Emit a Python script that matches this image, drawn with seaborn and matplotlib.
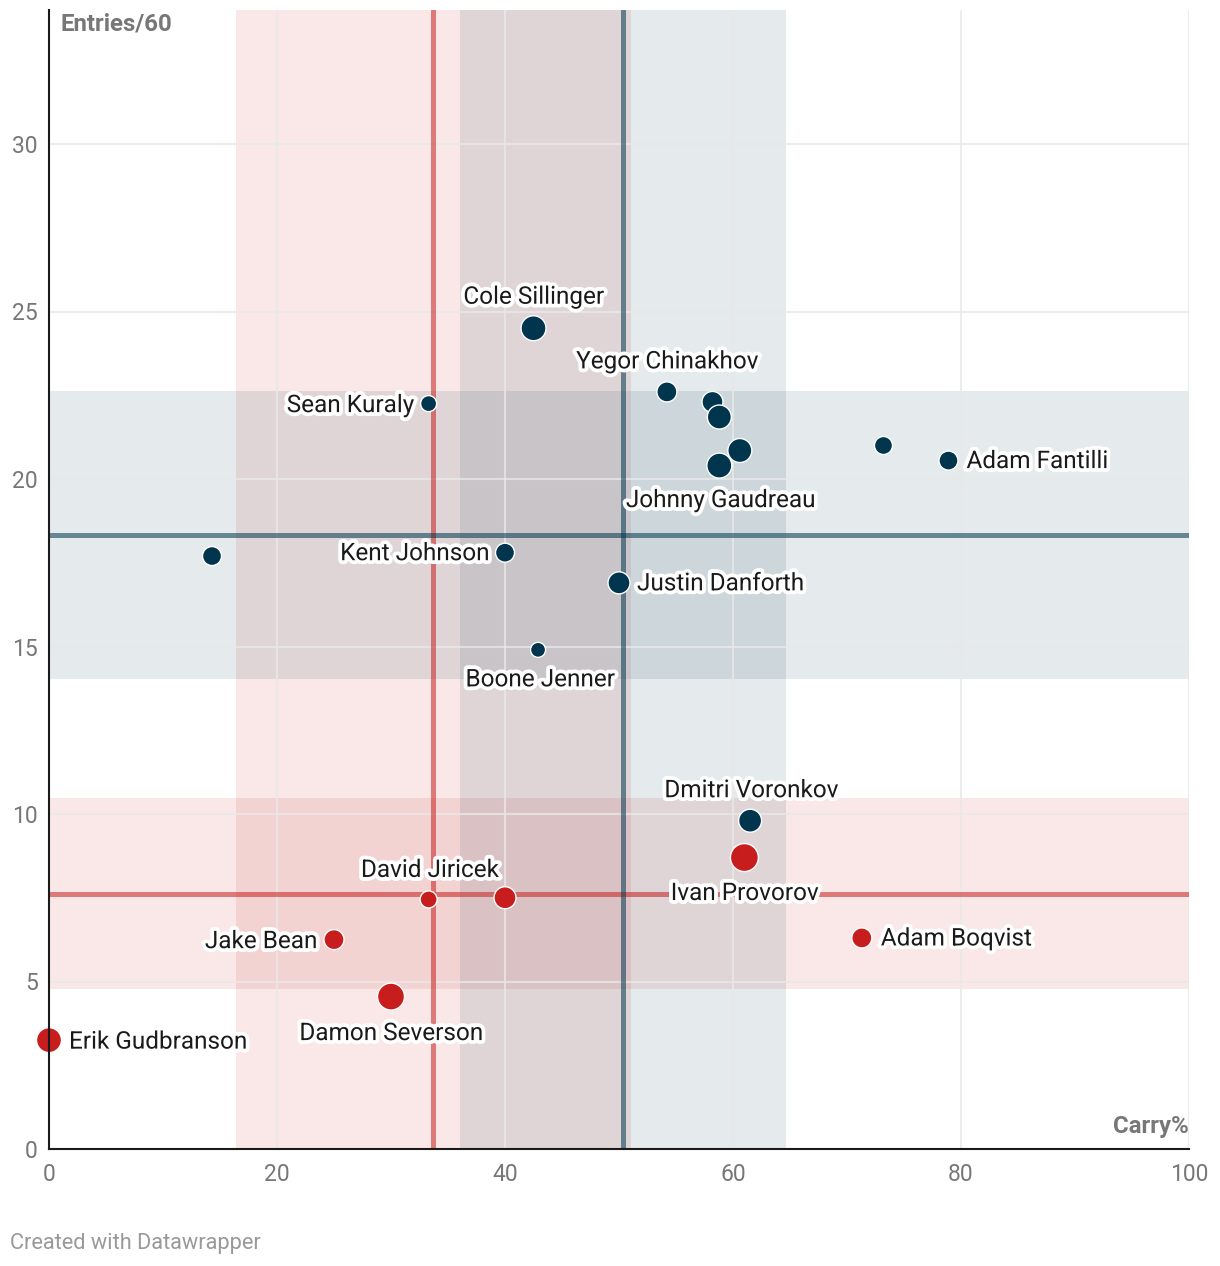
import numpy as np
import pandas as pd
import matplotlib
matplotlib.use("Agg")
import matplotlib.pyplot as plt
import matplotlib.patheffects as path_effects
import seaborn as sns

# ------------------------------------------------------------
# Carry% vs Entries/60 (forwards navy, defence red)
# ------------------------------------------------------------

PLAYERS = [
    "Cole Sillinger", "Yegor Chinakhov", "", "", "", "Johnny Gaudreau",
    "Sean Kuraly", "", "Kent Johnson", "Justin Danforth", "Boone Jenner",
    "Adam Fantilli", "", "Dmitri Voronkov",
    "Ivan Provorov", "David Jiricek", "", "Jake Bean", "Adam Boqvist",
    "Damon Severson", "Erik Gudbranson",
]
CARRY = [
    42.5, 54.2, 58.2, 58.8, 60.6, 58.8,
    33.3, 14.3, 40.0, 50.0, 42.9,
    78.9, 73.2, 61.5,
    61.0, 33.3, 40.0, 25.0, 71.3,
    30.0, 0.0,
]
ENTRIES = [
    24.5, 22.6, 22.3, 21.85, 20.85, 20.4,
    22.25, 17.7, 17.8, 16.9, 14.9,
    20.55, 21.0, 9.8,
    8.7, 7.45, 7.5, 6.25, 6.3,
    4.55, 3.25,
]
TOI = [
    312, 200, 220, 288, 288, 312,
    128, 180, 180, 242, 112,
    180, 162, 264,
    392, 144, 242, 200, 200,
    364, 312,
]
POSITION = ["F"] * 14 + ["D"] * 7

# group averages and spread bands
AVG_CARRY = {"F": 50.35, "D": 33.7}
AVG_ENTRIES = {"F": 18.33, "D": 7.62}
BAND_CARRY = {"F": (36.05, 64.65), "D": (16.4, 51.05)}
BAND_ENTRIES = {"F": (14.02, 22.64), "D": (4.77, 10.47)}

X_TICKS = [0, 20, 40, 60, 80, 100]
Y_TICKS = [0, 5, 10, 15, 20, 25, 30]

COLORS = {"F": "#00354d", "D": "#c71e1d"}

# label offsets in pixels (dx, dy, ha, va)
LABEL_CONFIG = {
    "Cole Sillinger": (0, 31, "center", "center"),
    "Yegor Chinakhov": (0, 30, "center", "center"),
    "Johnny Gaudreau": (1, -35, "center", "center"),
    "Sean Kuraly": (-15, -2, "right", "center"),
    "Kent Johnson": (-16, -1, "right", "center"),
    "Justin Danforth": (18, -1, "left", "center"),
    "Boone Jenner": (2, -30, "center", "center"),
    "Adam Fantilli": (18, -1, "left", "center"),
    "Dmitri Voronkov": (1, 30, "center", "center"),
    "Ivan Provorov": (0, -36, "center", "center"),
    "David Jiricek": (1, 29, "center", "center"),
    "Jake Bean": (-17, -2, "right", "center"),
    "Adam Boqvist": (19, -1, "left", "center"),
    "Damon Severson": (0, -37, "center", "center"),
    "Erik Gudbranson": (20, -2, "left", "center"),
}


def main():
    df = pd.DataFrame({
        "Player": PLAYERS,
        "Carry": CARRY,
        "Entries": ENTRIES,
        "TOI": TOI,
        "Pos": POSITION,
    })

    sns.set_theme(style="white")
    plt.rcParams["font.family"] = ["Roboto", "DejaVu Sans"]

    fig = plt.figure(figsize=(12.2, 12.66), dpi=100)
    ax = fig.add_axes([49 / 1220, 1 - 1149 / 1266, 1140 / 1220, 1139 / 1266])

    ax.set_xlim(0, 100)
    ax.set_ylim(0, 34)

    # spread bands
    for pos in ["D", "F"]:
        c = COLORS[pos]
        ax.axvspan(*BAND_CARRY[pos], color=c, alpha=0.1, lw=0, zorder=1)
        ax.axhspan(*BAND_ENTRIES[pos], color=c, alpha=0.1, lw=0, zorder=1)

    # grid (drawn over the bands)
    for x in X_TICKS[1:]:
        ax.axvline(x, color="#e8e8e8", alpha=0.8, lw=1.5, zorder=1.5)
    for y in Y_TICKS[1:]:
        ax.axhline(y, color="#e8e8e8", alpha=0.8, lw=1.5, zorder=1.5)

    # average lines
    for pos in ["D", "F"]:
        c = COLORS[pos]
        ax.axvline(AVG_CARRY[pos], color=c, alpha=0.55, lw=3.6, zorder=2)
        ax.axhline(AVG_ENTRIES[pos], color=c, alpha=0.55, lw=3.6, zorder=2)

    sns.scatterplot(
        data=df,
        x="Carry",
        y="Entries",
        hue="Pos",
        palette=COLORS,
        size="TOI",
        sizes=(117, 406),
        size_norm=(112, 392),
        edgecolor="white",
        linewidth=1,
        alpha=1,
        legend=False,
        clip_on=False,
        zorder=4,
        ax=ax,
    )

    px = 72 / 100
    for _, row in df.iterrows():
        name = row["Player"]
        if not name:
            continue
        dx, dy, ha, va = LABEL_CONFIG[name]
        txt = ax.annotate(
            name,
            (row["Carry"], row["Entries"]),
            xytext=(dx * px, dy * px),
            textcoords="offset points",
            fontsize=17.5,
            color="#1a1a1a",
            ha=ha,
            va=va,
            zorder=6,
        )
        txt.set_path_effects([
            path_effects.withStroke(linewidth=5.5, foreground="white")
        ])

    ax.set_xticks(X_TICKS)
    ax.set_yticks(Y_TICKS)
    ax.tick_params(axis="both", length=0, labelsize=16.5, labelcolor="#777777")
    ax.tick_params(axis="y", pad=8)
    ax.tick_params(axis="x", pad=10)
    ax.set_xlabel("")
    ax.set_ylabel("")

    for s in ["top", "right"]:
        ax.spines[s].set_visible(False)
    for s in ["left", "bottom"]:
        ax.spines[s].set_color("#1a1a1a")
        ax.spines[s].set_linewidth(1.5)
        ax.spines[s].set_zorder(5)

    ax.text(0.0105, 0.9877, "Entries/60", transform=ax.transAxes, ha="left",
            va="center", fontsize=17.3, fontweight="bold", color="#777777")
    ax.text(1.0, 0.020, "Carry%", transform=ax.transAxes, ha="right",
            va="center", fontsize=17.3, fontweight="bold", color="#777777")

    fig.text(10 / 1220, 1 - 1243 / 1266, "Created with Datawrapper",
             ha="left", va="center", fontsize=15.7, color="#999999")

    fig.savefig("out.png", dpi=100)
    plt.close(fig)


if __name__ == "__main__":
    main()
